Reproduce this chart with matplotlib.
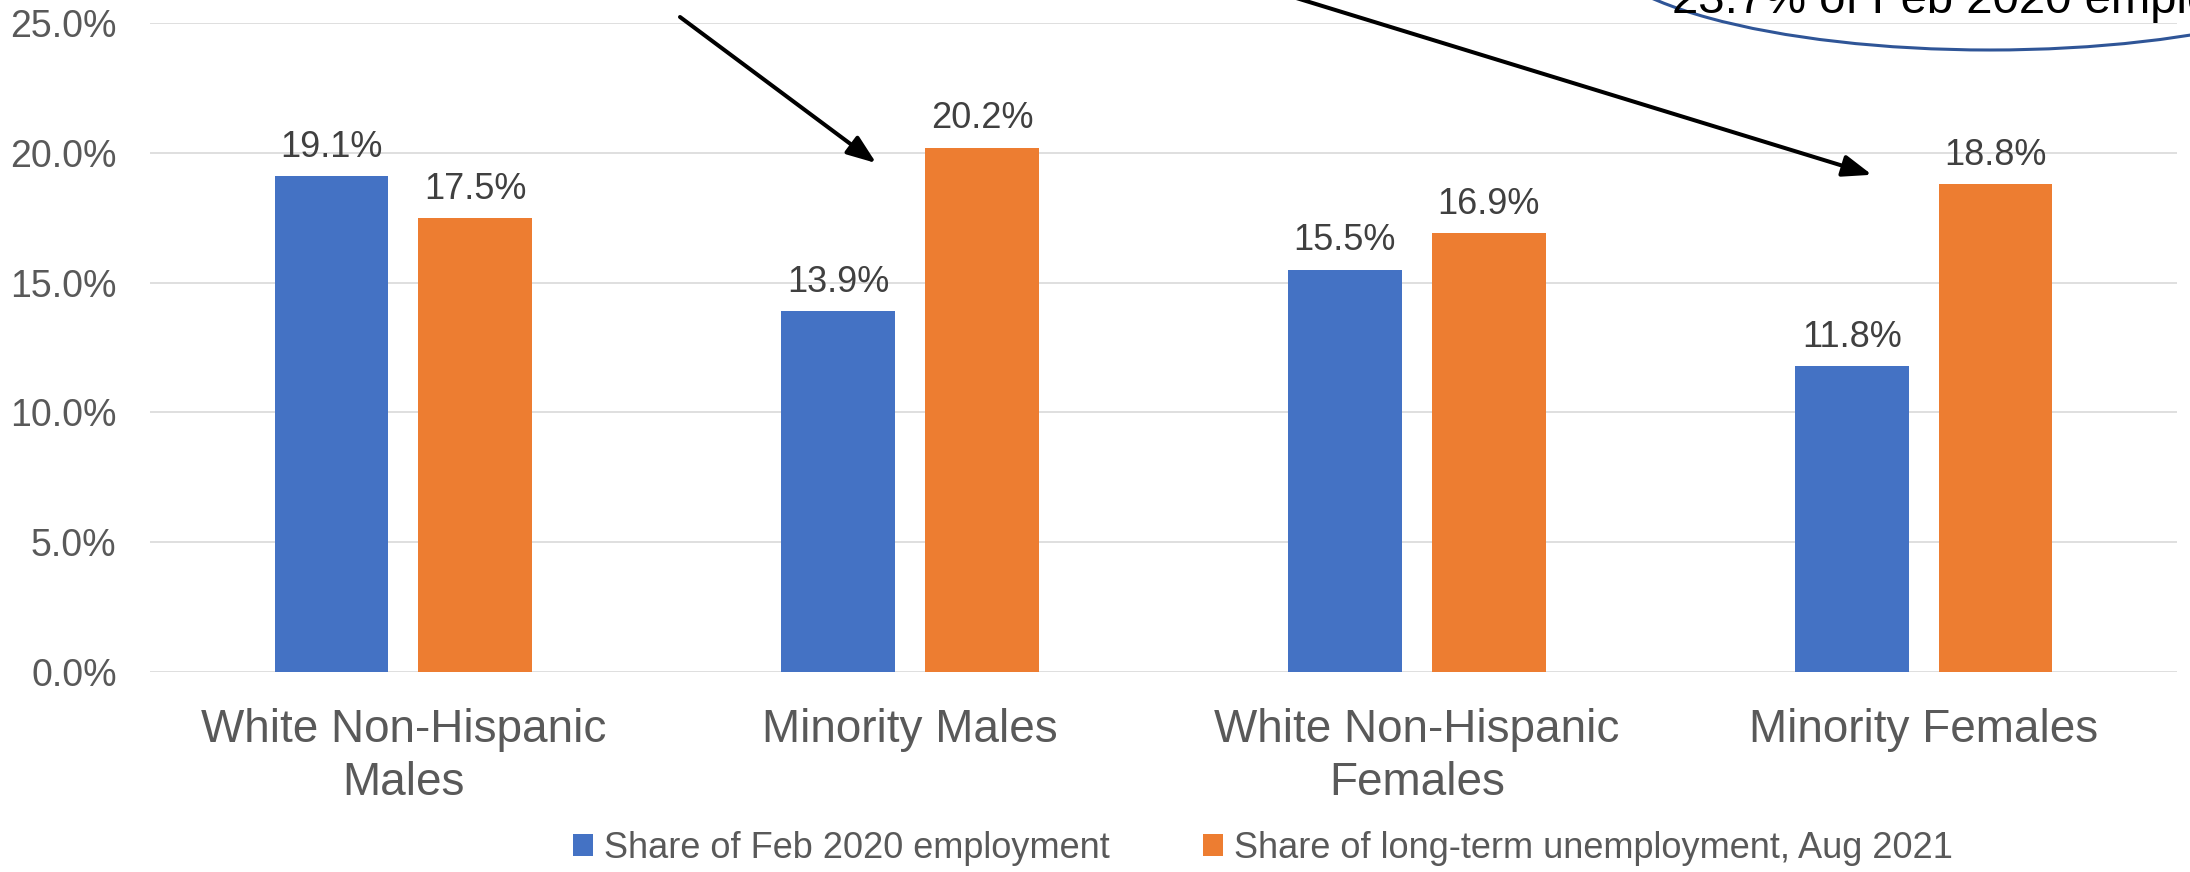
import numpy as np
import matplotlib.pyplot as plt
from matplotlib.patches import Ellipse
from matplotlib.ticker import FuncFormatter

plt.rcParams['font.family'] = ['Liberation Sans', 'DejaVu Sans']

groups = ['White Non-Hispanic\nMales', 'Minority Males',
          'White Non-Hispanic\nFemales', 'Minority Females']
feb2020_share = [19.1, 13.9, 15.5, 11.8]
ltu_share = [17.5, 20.2, 16.9, 18.8]
series_names = ['Share of Feb 2020 employment',
                'Share of long-term unemployment, Aug 2021']

W, H = 2190, 872
fig = plt.figure(figsize=(W / 100, H / 100), dpi=100)
ax = fig.add_axes([150 / W, 1 - 672.3 / H, 2027 / W, (672.3 - 22.8) / H])

x = np.arange(len(groups))
bw = 0.2245
off = 0.142
b1 = ax.bar(x - off, feb2020_share, bw, color='#4472C4', label=series_names[0], zorder=3)
b2 = ax.bar(x + off, ltu_share, bw, color='#ED7D31', label=series_names[1], zorder=3)

for bars, vals in ((b1, feb2020_share), (b2, ltu_share)):
    for r, v in zip(bars, vals):
        ax.annotate(f'{v:.1f}%', (r.get_x() + r.get_width() / 2, v),
                    xytext=(0, 8), textcoords='offset points',
                    ha='center', va='bottom', fontsize=26, color='#404040')

ax.set_xlim(-0.5, 3.5)
ax.set_ylim(0, 25)
ax.set_yticks(np.arange(0, 25.1, 5))
ax.yaxis.set_major_formatter(FuncFormatter(lambda v, p: f'{v:.1f}%'))
ax.set_xticks(x)
ax.set_xticklabels(groups, fontsize=33, color='#595959', linespacing=1.25)
ax.tick_params(axis='y', length=0, pad=24, labelsize=27, labelcolor='#595959')
ax.tick_params(axis='x', length=0, pad=26)
ax.grid(axis='y', color='#D9D9D9', lw=1.2, zorder=0)
for s in ax.spines.values():
    s.set_visible(False)

leg = fig.legend(handles=[b1, b2], loc='center', bbox_to_anchor=(1263 / W, 1 - 848 / H),
                 ncol=2, frameon=False, fontsize=26, handlelength=0.55, handleheight=0.55,
                 handletextpad=0.3, columnspacing=2.6)
for t in leg.get_texts():
    t.set_color('#595959')

# callout arrows running in from above the plot
ax.annotate('', xy=(0.933, 19.6), xycoords='data',
            xytext=(680 / W, 1 - 17 / H), textcoords='figure fraction',
            arrowprops=dict(arrowstyle='-|>,head_length=0.8,head_width=0.3',
                            mutation_scale=22, lw=2.9, color='black', shrinkA=0, shrinkB=0),
            annotation_clip=False)
ax.annotate('', xy=(2.898, 19.15), xycoords='data',
            xytext=(1280 / W, 1 + 7 / H), textcoords='figure fraction',
            arrowprops=dict(arrowstyle='-|>,head_length=0.8,head_width=0.3',
                            mutation_scale=22, lw=2.9, color='black', shrinkA=0, shrinkB=0),
            annotation_clip=False)

fig.add_artist(Ellipse((1990 / W, 1 + 60 / H), 797 / W, 220 / H, transform=fig.transFigure,
                       fill=False, edgecolor='#2F5597', lw=2.2))
fig.text(1672 / W, 1 - 13 / H, '23.7% of Feb 2020 employment', fontsize=34,
         color='black', va='baseline', ha='left')

fig.savefig('out.png', dpi=100)
